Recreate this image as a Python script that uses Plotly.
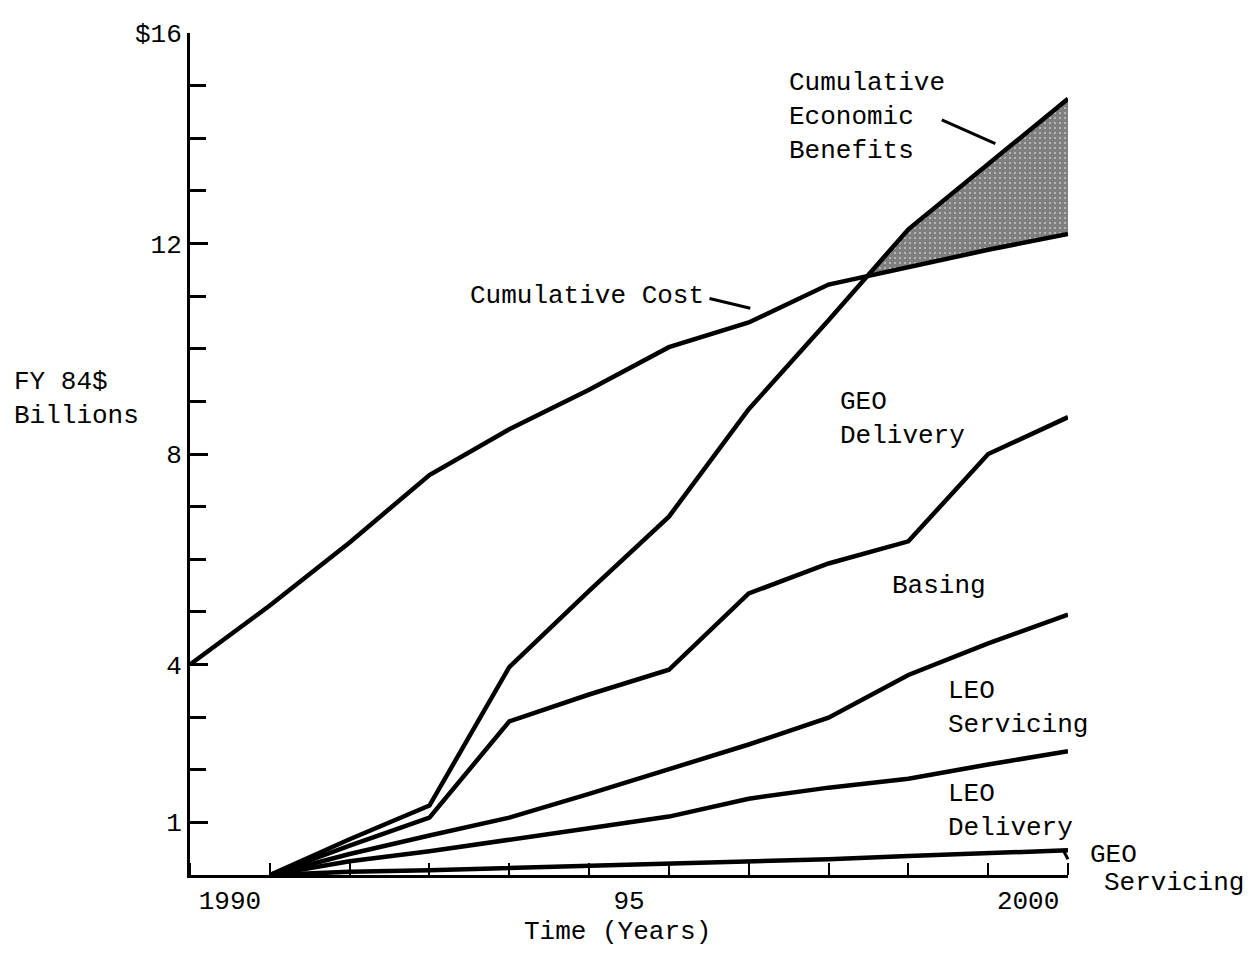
import plotly.graph_objects as go

# ---------------- data ----------------
# fiscal years; cumulative values are read at the end of each year
years = [1990, 1991, 1992, 1993, 1994, 1995, 1996, 1997, 1998, 1999, 2000]
first_year = 1990

# FY84 $ billions
cost_at_start = 4.0
cumulative_cost = [5.12, 6.32, 7.60, 8.47, 9.22, 10.03, 10.50, 11.22, 11.56, 11.88, 12.18]

# stacked benefit bands: upper edge of each band
cumulative_benefits = [0.0, 0.68, 1.32, 3.95, 5.40, 6.81, 8.85, 10.54, 12.27, 13.52, 14.75]  # top of GEO Delivery
basing_top = [0.0, 0.56, 1.09, 2.92, 3.43, 3.90, 5.35, 5.92, 6.34, 8.00, 8.70]
leo_servicing_top = [0.0, 0.40, 0.75, 1.09, 1.54, 2.01, 2.48, 2.99, 3.80, 4.40, 4.95]
leo_delivery_top = [0.0, 0.26, 0.45, 0.66, 0.89, 1.11, 1.45, 1.66, 1.83, 2.10, 2.35]
geo_servicing_top = [0.0, 0.06, 0.09, 0.13, 0.17, 0.21, 0.25, 0.30, 0.36, 0.41, 0.47]

x_tick_labels = ["1990", "95", "2000"]
x_tick_years = [1990, 1995, 2000]
y_tick_vals = [1, 4, 8, 12, 16]
y_tick_text = ["1", "4", "8", "12", "$16"]

# ---------------- figure ----------------
year_end = [y + 0.5 for y in years]
start_x = first_year - 0.5

FONT = "Liberation Mono, Courier New, monospace"
LW = 4.5
fig = go.Figure()

# crossing point of benefits and cost (for the shaded net-benefit wedge)
diff = [b - c for b, c in zip(cumulative_benefits, cumulative_cost)]
k = next(i for i in range(1, len(diff)) if diff[i - 1] < 0 <= diff[i])
t = -diff[k - 1] / (diff[k] - diff[k - 1])
x_cross = year_end[k - 1] + t * (year_end[k] - year_end[k - 1])
y_cross = cumulative_cost[k - 1] + t * (cumulative_cost[k] - cumulative_cost[k - 1])

fig.add_trace(go.Scatter(
    x=[x_cross] + year_end[k:], y=[y_cross] + cumulative_cost[k:],
    mode="lines", line=dict(width=0, color="black"), showlegend=False, hoverinfo="skip"))
fig.add_trace(go.Scatter(
    x=[x_cross] + year_end[k:], y=[y_cross] + cumulative_benefits[k:],
    mode="lines", line=dict(width=0, color="black"), fill="tonexty",
    fillcolor="rgba(0,0,0,0)",
    fillpattern=dict(shape=".", fgcolor="black", bgcolor="white", size=5, solidity=0.85),
    showlegend=False, hoverinfo="skip"))

series = [
    ("Cumulative Cost", [start_x] + year_end, [cost_at_start] + cumulative_cost),
    ("Cumulative Economic Benefits", year_end, cumulative_benefits),
    ("Basing", year_end, basing_top),
    ("LEO Servicing", year_end, leo_servicing_top),
    ("LEO Delivery", year_end, leo_delivery_top),
    ("GEO Servicing", year_end, geo_servicing_top),
]
for name, xs, ys in series:
    fig.add_trace(go.Scatter(x=xs, y=ys, mode="lines", name=name,
                             line=dict(color="black", width=LW),
                             showlegend=False, cliponaxis=False))

tf = dict(family=FONT, size=26, color="black")
ann = []


def label(text, x, y, xanchor="left", yanchor="middle", xref="x", yref="y"):
    ann.append(dict(text=text, x=x, y=y, xref=xref, yref=yref, xanchor=xanchor,
                    yanchor=yanchor, showarrow=False, font=tf, align="left"))


def leader(x0, y0, x1, y1):
    ann.append(dict(text="", x=x1, y=y1, ax=x0, ay=y0, xref="x", yref="y",
                    axref="x", ayref="y", showarrow=True, arrowhead=0,
                    arrowwidth=3, arrowcolor="black"))


label("Cumulative Cost", 1992.98, 11.0)
leader(1995.99, 10.96, 1996.52, 10.77)
label("Cumulative<br>Economic<br>Benefits", 1996.98, 14.40)
leader(1998.90, 14.36, 1999.59, 13.90)
label("GEO<br>Delivery", 1997.62, 8.66)
label("Basing", 1998.27, 5.50)
label("LEO<br>Servicing", 1998.97, 3.18)
label("LEO<br>Delivery", 1998.97, 1.22)
label("GEO", 1.0228, 0.38, xref="paper")
label("Servicing", 1.0387, -0.0094, xref="paper", yref="paper")
leader(2000.44, 0.47, 2000.50, 0.30)
label("FY 84$<br>Billions", -0.203, 9.04, xref="paper")
label("Time (Years)", 1994.85, -0.068, xanchor="center", yref="paper")

# the page body adds an 8 px margin, so the figure is sized to fit the window
fig.update_layout(
    width=1236, height=942,
    margin=dict(l=182, r=176, t=17, b=75),
    paper_bgcolor="white", plot_bgcolor="white",
    showlegend=False,
    annotations=ann,
    xaxis=dict(
        range=[start_x, year_end[-1]],
        showgrid=False, zeroline=False,
        showline=True, linewidth=3, linecolor="black",
        tickmode="array", tickvals=x_tick_years, ticktext=x_tick_labels,
        ticks="", tickfont=dict(family=FONT, size=26, color="black"),
        minor=dict(tickmode="linear", tick0=start_x, dtick=1, ticks="inside",
                   ticklen=12, tickwidth=2, tickcolor="black", showgrid=False),
    ),
    yaxis=dict(
        range=[0, 16],
        showgrid=False, zeroline=False,
        showline=True, linewidth=3, linecolor="black",
        tickmode="array", tickvals=y_tick_vals, ticktext=y_tick_text,
        ticks="inside", ticklen=18, tickwidth=3, tickcolor="black",
        tickfont=dict(family=FONT, size=26, color="black"),
        minor=dict(tickmode="linear", tick0=0, dtick=1, ticks="inside",
                   ticklen=16, tickwidth=3, tickcolor="black", showgrid=False),
    ),
)

fig.write_html("out.html")
